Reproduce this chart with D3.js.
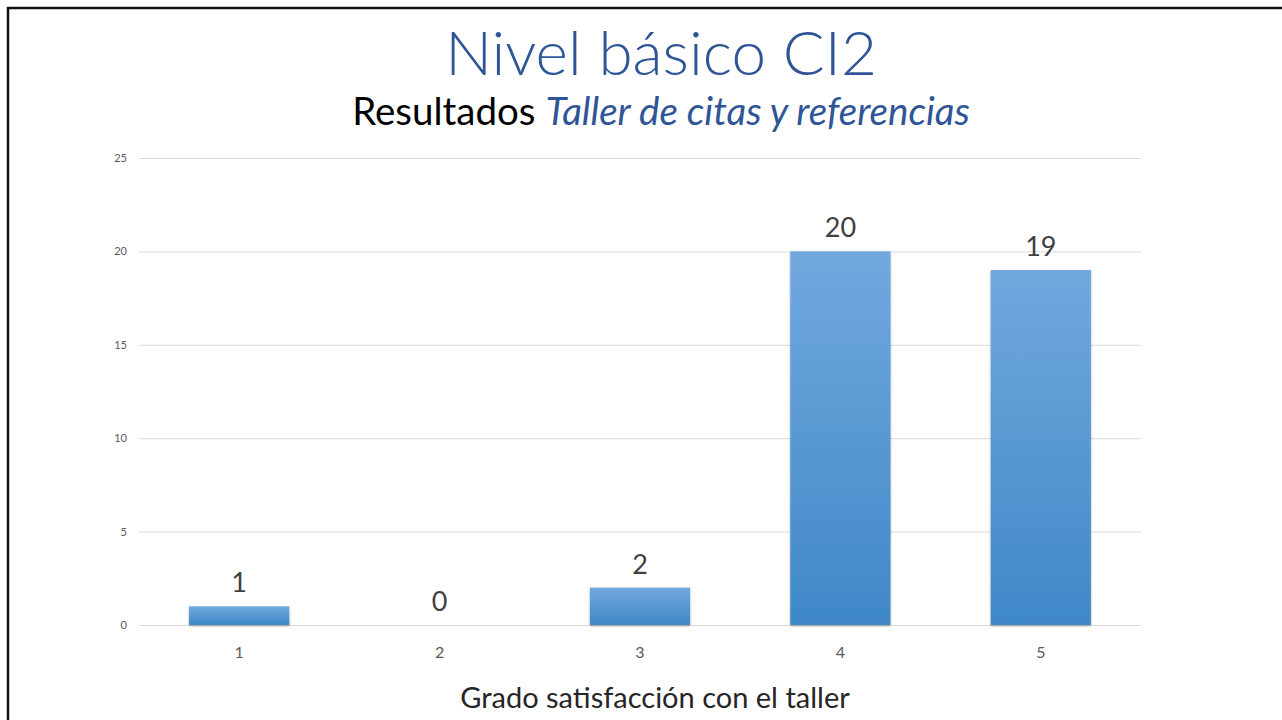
<!DOCTYPE html>
<html>
<head>
<meta charset="utf-8">
<script src="https://cdn.jsdelivr.net/npm/d3@7"></script>
<style>
  body { margin: 0; background: #fff; }
  svg { display: block; }
</style>
</head>
<body>
<div id="chart"></div>
<script>
var categories = ["1", "2", "3", "4", "5"];
var values = [1, 0, 2, 20, 19];
var yTicks = [0, 5, 10, 15, 20, 25];

var width = 1282, height = 720;
var plot = { left: 139, right: 1141, top: 158, bottom: 625 };

var svg = d3.select("#chart").append("svg")
  .attr("width", width)
  .attr("height", height)

var defs = svg.append("defs");
var grad = defs.append("linearGradient")
  .attr("id", "barGrad")
  .attr("x1", 0).attr("y1", 0).attr("x2", 0).attr("y2", 1);
grad.append("stop").attr("offset", "0%").attr("stop-color", "#71a8de");
grad.append("stop").attr("offset", "100%").attr("stop-color", "#3f88c8");

var shadow = defs.append("filter").attr("id", "shadow")
  .attr("x", "-10%").attr("y", "-10%").attr("width", "120%").attr("height", "130%");
shadow.append("feDropShadow")
  .attr("dx", 0).attr("dy", 1).attr("stdDeviation", 1.2)
  .attr("flood-color", "#000").attr("flood-opacity", 0.35);

// slide frame
svg.append("path")
  .attr("d", "M8 " + height + " L8 8 L" + width + " 8")
  .attr("fill", "none")
  .attr("stroke", "#111")
  .attr("stroke-width", 2.5);

// titles
svg.append("text")
  .attr("x", 661).attr("y", 75)
  .attr("text-anchor", "middle")
  .attr("font-family", "Lato, 'Open Sans', sans-serif")
  .attr("font-weight", 300)
  .attr("font-size", 62)
  .attr("fill", "#2f5597")
  .text("Nivel básico CI2");

var sub = svg.append("text")
  .attr("x", 661).attr("y", 125)
  .attr("text-anchor", "middle")
  .attr("font-family", "Lato, 'Open Sans', sans-serif")
  .attr("font-size", 38.5);
sub.append("tspan").attr("fill", "#000").text("Resultados ");
sub.append("tspan").attr("fill", "#2f5597").attr("font-style", "italic").text("Taller de citas y referencias");

var x = d3.scaleBand().domain(categories).range([plot.left, plot.right]).paddingInner(0.5).paddingOuter(0.25);
var y = d3.scaleLinear().domain([0, 25]).range([plot.bottom, plot.top]);

// gridlines
svg.append("g")
  .selectAll("line")
  .data(yTicks)
  .join("line")
  .attr("x1", plot.left).attr("x2", plot.right)
  .attr("y1", d => y(d) + 0.5).attr("y2", d => y(d) + 0.5)
  .attr("stroke", "#d9d9d9")
  .attr("stroke-width", 1);

// y axis labels
svg.append("g")
  .selectAll("text")
  .data(yTicks)
  .join("text")
  .attr("x", 127).attr("y", d => y(d) + 4)
  .attr("text-anchor", "end")
  .attr("font-family", "Lato, 'Open Sans', sans-serif")
  .attr("font-size", 11)
  .attr("fill", "#595959")
  .text(d => d);

// bars (zero values leave only a faint shadow)
svg.append("g")
  .selectAll("rect")
  .data(values)
  .join("rect")
  .attr("x", (d, i) => x(categories[i]))
  .attr("width", x.bandwidth())
  .attr("y", d => y(d))
  .attr("height", d => y(0) - y(d))
  .attr("fill", "url(#barGrad)")
  .attr("filter", "url(#shadow)");

// value labels
svg.append("g")
  .selectAll("text")
  .data(values)
  .join("text")
  .attr("x", (d, i) => x(categories[i]) + x.bandwidth() / 2)
  .attr("y", d => y(d) - 14)
  .attr("text-anchor", "middle")
  .attr("font-family", "Lato, 'Open Sans', sans-serif")
  .attr("font-size", 27)
  .attr("fill", "#404040")
  .text(d => d);

// x axis labels
svg.append("g")
  .selectAll("text")
  .data(categories)
  .join("text")
  .attr("x", d => x(d) + x.bandwidth() / 2)
  .attr("y", 658)
  .attr("text-anchor", "middle")
  .attr("font-family", "Lato, 'Open Sans', sans-serif")
  .attr("font-size", 16)
  .attr("fill", "#595959")
  .text(d => d);

svg.append("text")
  .attr("x", 655).attr("y", 708)
  .attr("text-anchor", "middle")
  .attr("font-family", "Lato, 'Open Sans', sans-serif")
  .attr("font-size", 29)
  .attr("fill", "#262626")
  .text("Grado satisfacción con el taller");
</script>
</body>
</html>
